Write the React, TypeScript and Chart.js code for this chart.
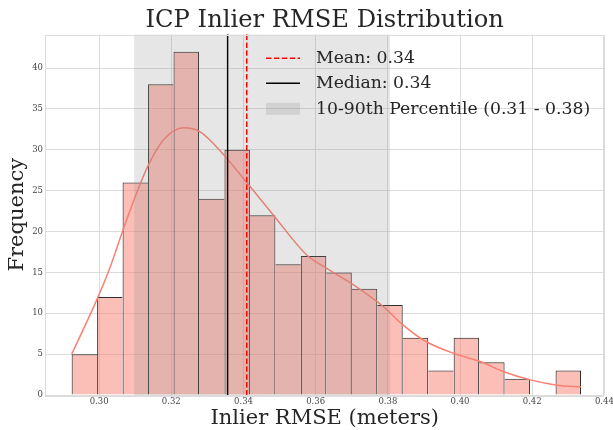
import React, { useEffect, useRef } from "react";
import { Chart, registerables } from "chart.js";

Chart.register(...registerables);

// ---- data ----
const binCounts = [5, 12, 26, 38, 42, 24, 30, 22, 16, 17, 15, 13, 11, 7, 3, 7, 4, 2, 0, 3];
const binStart = 0.29238;
const binWidth = 0.007057;

const kdeX = [0.2924, 0.2994, 0.3031, 0.3063, 0.3097, 0.3134, 0.3178, 0.3234, 0.3280, 0.3345, 0.3409, 0.3483, 0.3576, 0.3631, 0.3714, 0.3788, 0.3841, 0.3899, 0.3982, 0.4056, 0.4121, 0.4195, 0.4269, 0.4335];
const kdeY = [5.0, 11.7, 15.7, 19.8, 23.9, 27.9, 31.2, 32.7, 32.2, 29.4, 26.0, 22.0, 17.1, 15.5, 13.2, 10.8, 8.6, 6.7, 5.1, 4.1, 2.85, 1.85, 1.2, 1.0];

const xTicks = [0.30, 0.32, 0.34, 0.36, 0.38, 0.40, 0.42, 0.44];
const yTicks = [0, 5, 10, 15, 20, 25, 30, 35, 40];
const xRange = [0.2850, 0.4400];
const yRange = [0, 44.1];

const meanValue = 0.3409;
const medianValue = 0.3356;
const p10Value = 0.3097;
const p90Value = 0.3806;

const titleText = "ICP Inlier RMSE Distribution";
const xLabel = "Inlier RMSE (meters)";
const yLabel = "Frequency";
const legendLabels = ["Mean: 0.34", "Median: 0.34", "10-90th Percentile (0.31 - 0.38)"];

const FONT = "DejaVu Serif";
const TEXT = "#262626";
const GRID = "#dcdcdc";
const SALMON = "#FA8072";

const overlayPlugin = {
  id: "overlay",
  afterDatasetsDraw(chart: any) {
    const { ctx, chartArea: a, scales } = chart;
    const x = scales.x;
    ctx.save();
    // 10-90 percentile band
    const x1 = x.getPixelForValue(p10Value);
    const x2 = x.getPixelForValue(p90Value);
    ctx.fillStyle = "rgba(128,128,128,0.2)";
    ctx.fillRect(x1, a.top, x2 - x1, a.bottom - a.top);
    // mean
    const mx = x.getPixelForValue(meanValue);
    ctx.strokeStyle = "#ff0000";
    ctx.lineWidth = 1.5;
    ctx.setLineDash([5.5, 2.4]);
    ctx.beginPath();
    ctx.moveTo(mx, a.top);
    ctx.lineTo(mx, a.bottom);
    ctx.stroke();
    // median
    const dx = x.getPixelForValue(medianValue);
    ctx.setLineDash([]);
    ctx.strokeStyle = "#000000";
    ctx.lineWidth = 1.4;
    ctx.beginPath();
    ctx.moveTo(dx, a.top);
    ctx.lineTo(dx, a.bottom);
    ctx.stroke();

    // spines
    ctx.strokeStyle = GRID;
    ctx.lineWidth = 1;
    ctx.strokeRect(Math.round(a.left) + 0.5, Math.round(a.top) + 0.5, Math.round(a.right - a.left) - 1, Math.round(a.bottom - a.top));

    // legend
    const hx0 = a.right - 338.4;
    const hx1 = hx0 + 34;
    const tx = hx0 + 50;
    const rows = [a.top + 24.2, a.top + 49.2, a.top + 74.8];
    ctx.strokeStyle = "#ff0000";
    ctx.lineWidth = 1.5;
    ctx.setLineDash([5.5, 2.4]);
    ctx.beginPath();
    ctx.moveTo(hx0, rows[0] - 0.5);
    ctx.lineTo(hx1, rows[0] - 0.5);
    ctx.stroke();
    ctx.setLineDash([]);
    ctx.strokeStyle = "#000000";
    ctx.beginPath();
    ctx.moveTo(hx0, rows[1] - 0.5);
    ctx.lineTo(hx1, rows[1] - 0.5);
    ctx.stroke();
    ctx.fillStyle = "rgba(128,128,128,0.2)";
    ctx.fillRect(hx0, rows[2] - 6.5, hx1 - hx0, 12);

    ctx.fillStyle = TEXT;
    ctx.font = `17.25px "${FONT}"`;
    ctx.textAlign = "left";
    ctx.textBaseline = "middle";
    legendLabels.forEach((t, i) => ctx.fillText(t, tx, rows[i]));
    ctx.restore();
  },
};

export default function App() {
  const ref = useRef<HTMLCanvasElement>(null);
  useEffect(() => {
    document.body.style.margin = "0";
    const n = binCounts.length;
    const chart = new Chart(ref.current as HTMLCanvasElement, {
      type: "bar",
      data: {
        datasets: [
          {
            type: "line",
            data: kdeX.map((v, i) => ({ x: v, y: kdeY[i] })),
            borderColor: SALMON,
            borderWidth: 1.5,
            pointRadius: 0,
            fill: false,
            cubicInterpolationMode: "monotone",
            order: 0,
          } as any,
          {
            type: "bar",
            data: binCounts.map((c, i) => ({ x: binStart + (i + 0.5) * binWidth, y: c })),
            backgroundColor: "rgba(250,128,114,0.5)",
            borderColor: "rgba(0,0,0,0.82)",
            borderWidth: (ctx: any) => {
              const i = ctx.dataIndex;
              const c = binCounts[i];
              const prev = i > 0 ? binCounts[i - 1] : -1;
              const next = i < n - 1 ? binCounts[i + 1] : -1;
              return { top: 1, bottom: 0, left: c > prev ? 1 : 0, right: c >= next ? 1 : 0 };
            },
            borderSkipped: false,
            barPercentage: 1,
            categoryPercentage: 1,
            inflateAmount: 0,
            order: 1,
          } as any,
        ],
      },
      options: {
        responsive: false,
        animation: false,
        devicePixelRatio: 1,
        events: [],
        layout: { padding: { left: 0, right: 8.6, top: 0, bottom: 0 } },
        font: { family: FONT },
        plugins: {
          legend: { display: false },
          tooltip: { enabled: false },
          title: {
            display: true,
            fullSize: false,
            text: titleText,
            color: TEXT,
            font: { family: FONT, size: 24.2, weight: "normal", lineHeight: 1 },
            padding: { top: 8.8, bottom: 1.5 },
          },
        },
        scales: {
          x: {
            type: "linear",
            min: xRange[0],
            max: xRange[1],
            offset: false,
            afterBuildTicks: (s: any) => {
              s.ticks = xTicks.map((v) => ({ value: v }));
            },
            afterFit: (s: any) => {
              s.height = 35;
              s.paddingLeft = 0;
              s.paddingRight = 0;
            },
            grid: { color: GRID, lineWidth: 1, drawTicks: false, tickLength: 0, offset: false },
            border: { display: false },
            ticks: {
              color: "#444",
              font: { family: FONT, size: 8.5 },
              padding: 2,
              maxRotation: 0,
              autoSkip: false,
              callback: (v: any) => Number(v).toFixed(2),
            },
            title: {
              display: true,
              text: xLabel,
              color: TEXT,
              font: { family: FONT, size: 21, lineHeight: 1 },
              padding: { top: 0, bottom: 1.1 },
            },
          },
          y: {
            type: "linear",
            min: yRange[0],
            max: yRange[1],
            afterBuildTicks: (s: any) => {
              s.ticks = yTicks.map((v) => ({ value: v }));
            },
            afterFit: (s: any) => {
              s.width = 45;
              s.paddingTop = 0;
              s.paddingBottom = 0;
            },
            grid: { color: GRID, lineWidth: 1, drawTicks: false, tickLength: 0 },
            border: { display: false },
            ticks: {
              color: "#444",
              font: { family: FONT, size: 8.5 },
              padding: 2,
              autoSkip: false,
              callback: (v: any) => String(v),
            },
            title: {
              display: true,
              text: yLabel,
              color: TEXT,
              font: { family: FONT, size: 21, lineHeight: 1 },
              padding: { top: 7.5, bottom: 0 },
            },
          },
        },
      } as any,
      plugins: [overlayPlugin],
    });
    return () => chart.destroy();
  }, []);
  return (
    <div style={{ position: "absolute", left: 0, top: 0, width: 613, height: 430, background: "#ffffff" }}>
      <canvas ref={ref} width={613} height={430} style={{ display: "block", width: 613, height: 430 }} />
    </div>
  );
}
